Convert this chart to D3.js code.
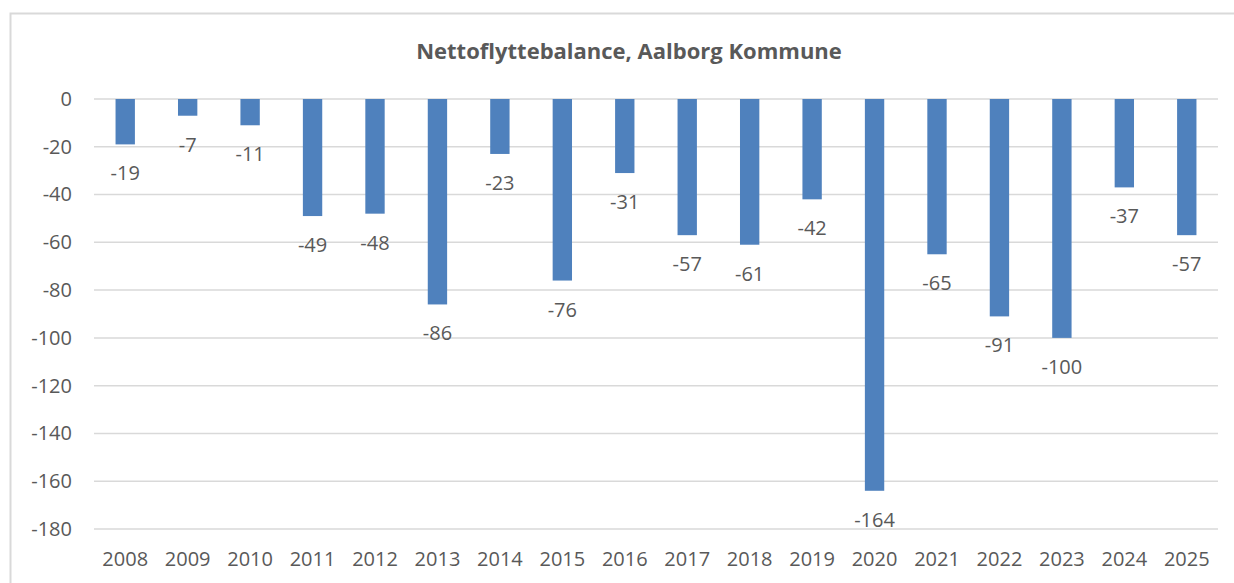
<!DOCTYPE html>
<html>
<head>
<meta charset="utf-8">
<script src="https://cdn.jsdelivr.net/npm/d3@7"></script>
<style>
  body { margin: 0; background: #fff; }
  text { font-family: "Open Sans", "Noto Sans", sans-serif; fill: #595959; }
</style>
</head>
<body>
<script>
var width = 1234,
  height = 583;

// data
var years = ["2008", "2009", "2010", "2011", "2012", "2013", "2014", "2015", "2016",
  "2017", "2018", "2019", "2020", "2021", "2022", "2023", "2024", "2025"];
var balance = [-19, -7, -11, -49, -48, -86, -23, -76, -31, -57, -61, -42, -164, -65, -91, -100, -37, -57];
var yTicks = [0, -20, -40, -60, -80, -100, -120, -140, -160, -180];
var title = "Nettoflyttebalance, Aalborg Kommune";

var plot = { left: 94, right: 1218, top: 99, bottom: 529 };

var svg = d3.select("body")
  .append("svg")
  .attr("width", width)
  .attr("height", height);

// chart frame
svg.append("rect")
  .attr("x", 10.5)
  .attr("y", 13.5)
  .attr("width", 1240)
  .attr("height", 600)
  .attr("fill", "#fff")
  .attr("stroke", "#d9d9d9")
  .attr("stroke-width", 2);

svg.append("text")
  .attr("x", 629)
  .attr("y", 59)
  .attr("text-anchor", "middle")
  .style("font-size", "22px")
  .style("font-weight", "bold")
  .text(title);

var x = d3.scaleBand()
  .domain(years)
  .range([plot.left, plot.right])
  .paddingInner(0.69)
  .paddingOuter(0.345);

var y = d3.scaleLinear()
  .domain([0, -180])
  .range([plot.top, plot.bottom]);

// gridlines
svg.append("g")
  .selectAll("line")
  .data(yTicks)
  .enter()
  .append("line")
  .attr("x1", plot.left)
  .attr("x2", plot.right)
  .attr("y1", function (d) { return y(d); })
  .attr("y2", function (d) { return y(d); })
  .attr("stroke", "#d9d9d9")
  .attr("stroke-width", 1.5);

// y axis labels
var yAxis = svg.append("g")
  .attr("transform", "translate(" + (plot.left - 22) + ",0)")
  .call(d3.axisLeft(y).tickValues(yTicks).tickFormat(function (d) { return String(d); })
    .tickSize(0).tickPadding(0));
yAxis.select(".domain").remove();
yAxis.selectAll("text")
  .style("font-size", "20px")
  .style("font-family", null)
  .attr("fill", null);

// x axis labels
var xAxis = svg.append("g")
  .attr("transform", "translate(0," + (plot.bottom + 23) + ")")
  .call(d3.axisBottom(x).tickSize(0).tickPadding(0));
xAxis.select(".domain").remove();
xAxis.selectAll("text")
  .attr("dy", "0.71em")
  .style("font-size", "20px")
  .style("font-family", null)
  .attr("fill", null);

// bars
svg.append("g")
  .selectAll("rect")
  .data(balance)
  .enter()
  .append("rect")
  .attr("x", function (d, i) { return x(years[i]); })
  .attr("y", y(0))
  .attr("width", x.bandwidth())
  .attr("height", function (d) { return y(d) - y(0); })
  .attr("fill", "#4f81bd");

// value labels
svg.append("g")
  .selectAll("text")
  .data(balance)
  .enter()
  .append("text")
  .attr("x", function (d, i) { return x(years[i]) + x.bandwidth() / 2; })
  .attr("y", function (d) { return y(d) + 36; })
  .attr("text-anchor", "middle")
  .style("font-size", "20px")
  .text(function (d) { return d; });
</script>
</body>
</html>
